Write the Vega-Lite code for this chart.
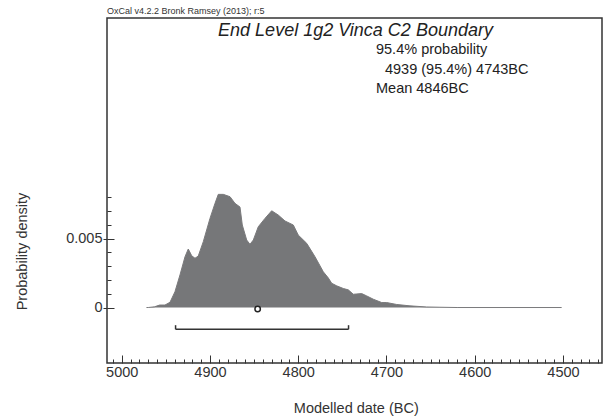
{
  "$schema": "https://vega.github.io/schema/vega-lite/v6.json",
  "width": 495,
  "height": 345,
  "autosize": {"type": "none"},
  "padding": {"left": 107, "top": 18, "right": 1, "bottom": 53},
  "background": "white",
  "title": {"text": "OxCal v4.2.2 Bronk Ramsey (2013); r:5", "anchor": "start", "fontSize": 9, "font": "Liberation Sans", "fontWeight": "normal", "color": "#333", "offset": 2, "frame": "group"},
  "config": {
    "view": {"stroke": "#333", "strokeWidth": 1.5},
    "font": "Liberation Sans",
    "axis": {"domain": false, "grid": false, "tickColor": "#333", "labelColor": "#333", "titleColor": "#333", "labelFont": "Liberation Sans", "titleFont": "Liberation Sans", "labelFontSize": 14.5, "titleFontSize": 14.5, "titleFontWeight": "normal", "tickWidth": 1}
  },
  "datasets": {
    "density": [
      {"year": 4972, "density": 0},
      {"year": 4970, "density": 0},
      {"year": 4963, "density": 0.00005},
      {"year": 4957, "density": 0.00018},
      {"year": 4951, "density": 0.00018},
      {"year": 4945.3, "density": 0.00038},
      {"year": 4939.7, "density": 0.00114},
      {"year": 4934, "density": 0.00236},
      {"year": 4928.3, "density": 0.00368},
      {"year": 4924.6, "density": 0.00424},
      {"year": 4920.7, "density": 0.00375},
      {"year": 4917, "density": 0.00357},
      {"year": 4913.3, "density": 0.00373},
      {"year": 4907.6, "density": 0.00477},
      {"year": 4900, "density": 0.00646},
      {"year": 4894.3, "density": 0.00755},
      {"year": 4890.6, "density": 0.0082},
      {"year": 4884.9, "density": 0.0082},
      {"year": 4877.3, "density": 0.00803},
      {"year": 4871.7, "density": 0.00755},
      {"year": 4866, "density": 0.00728},
      {"year": 4863.4, "density": 0.00598},
      {"year": 4858.4, "density": 0.00489},
      {"year": 4854.7, "density": 0.00458},
      {"year": 4850.9, "density": 0.00489},
      {"year": 4845.3, "density": 0.00585},
      {"year": 4837.7, "density": 0.00646},
      {"year": 4830.1, "density": 0.00701},
      {"year": 4822.6, "density": 0.0067},
      {"year": 4815, "density": 0.00627},
      {"year": 4805.6, "density": 0.00598},
      {"year": 4800, "density": 0.00525},
      {"year": 4790.4, "density": 0.00465},
      {"year": 4781, "density": 0.00368},
      {"year": 4771.6, "density": 0.00259},
      {"year": 4766, "density": 0.00215},
      {"year": 4762.1, "density": 0.00176},
      {"year": 4756.4, "density": 0.00157},
      {"year": 4749, "density": 0.00138},
      {"year": 4743.3, "density": 0.00128},
      {"year": 4737.6, "density": 0.00096},
      {"year": 4728.1, "density": 0.00101},
      {"year": 4722.4, "density": 0.00084},
      {"year": 4714.9, "density": 0.0006},
      {"year": 4705.4, "density": 0.00036},
      {"year": 4699.8, "density": 0.00036},
      {"year": 4688.4, "density": 0.00022},
      {"year": 4673.4, "density": 0.00012},
      {"year": 4654.4, "density": 0.00004},
      {"year": 4639.4, "density": 0.00002},
      {"year": 4620, "density": 0},
      {"year": 4501.5, "density": 0}
    ],
    "range": [{"from": 4939, "to": 4743}],
    "ends": [{"year": 4939}, {"year": 4743}],
    "mean": [{"year": 4846}]
  },
  "layer": [
    {
      "data": {"name": "density"},
      "mark": {"type": "area", "color": "#767779", "opacity": 1, "line": {"color": "#7a7a7c", "strokeWidth": 1}},
      "encoding": {
        "x": {"field": "year", "type": "quantitative",
          "scale": {"domain": [4455.8, 5016.7], "reverse": true, "nice": false, "zero": false},
          "axis": {"orient": "bottom", "values": [5000, 4900, 4800, 4700, 4600, 4500], "tickSize": -8, "labelPadding": 10, "format": "d", "labelFlush": false, "labelOverlap": false, "title": "Modelled date (BC)", "titleX": 248.8, "titleY": 49, "titleBaseline": "alphabetic", "titleAlign": "center"}},
        "y": {"field": "density", "type": "quantitative",
          "scale": {"domain": [-0.00402, 0.02098], "nice": false, "zero": false},
          "axis": {"orient": "left", "values": [0, 0.005], "tickSize": 4, "labelPadding": 1, "format": "~g", "labelFlush": false, "labelOverlap": false, "title": "Probability density", "titleAngle": -90, "titleX": -84.5, "titleY": 233, "titleAlign": "center", "titleBaseline": "middle"}}
      }
    },
    {
      "data": {"name": "range"},
      "mark": {"type": "rule", "color": "#333", "strokeWidth": 1.5},
      "encoding": {
        "x": {"field": "from", "type": "quantitative",
          "scale": {"domain": [4455.8, 5016.7], "reverse": true, "nice": false, "zero": false},
          "axis": {"orient": "bottom", "values": [5010, 4990, 4980, 4970, 4960, 4950, 4940, 4930, 4920, 4910, 4890, 4880, 4870, 4860, 4850, 4840, 4830, 4820, 4810, 4790, 4780, 4770, 4760, 4750, 4740, 4730, 4720, 4710, 4690, 4680, 4670, 4660, 4650, 4640, 4630, 4620, 4610, 4590, 4580, 4570, 4560, 4550, 4540, 4530, 4520, 4510, 4490, 4480, 4470, 4460], "tickSize": -4, "labels": false, "title": null}},
        "x2": {"field": "to"},
        "y": {"datum": -0.00158, "type": "quantitative",
          "scale": {"domain": [-0.00402, 0.02098], "nice": false, "zero": false},
          "axis": {"orient": "left", "values": [0, 0.005], "tickSize": -7, "labels": false, "title": null}}
      }
    },
    {
      "data": {"name": "ends"},
      "mark": {"type": "rule", "color": "#333", "strokeWidth": 1.5},
      "encoding": {
        "x": {"field": "year", "type": "quantitative",
          "scale": {"domain": [4455.8, 5016.7], "reverse": true, "nice": false, "zero": false}, "axis": null},
        "y": {"datum": -0.00158, "type": "quantitative",
          "scale": {"domain": [-0.00402, 0.02098], "nice": false, "zero": false}, "axis": null},
        "y2": {"datum": -0.00128}
      }
    },
    {
      "data": {"name": "mean"},
      "mark": {"type": "point", "filled": false, "fill": "white", "stroke": "#222", "strokeWidth": 1.5, "size": 30, "opacity": 1},
      "encoding": {
        "x": {"field": "year", "type": "quantitative",
          "scale": {"domain": [4455.8, 5016.7], "reverse": true, "nice": false, "zero": false}, "axis": null},
        "y": {"datum": -0.0001, "type": "quantitative",
          "scale": {"domain": [-0.00402, 0.02098], "nice": false, "zero": false},
          "axis": {"orient": "left", "values": [0.001, 0.002, 0.003, 0.004, 0.006, 0.007, 0.008], "tickSize": -4, "labels": false, "title": null}}
      }
    },
    {
      "data": {"values": [{"label": "End Level 1g2 Vinca C2 Boundary"}]},
      "mark": {"type": "text", "align": "center", "baseline": "alphabetic", "fontSize": 18, "fontStyle": "italic", "font": "Liberation Sans", "color": "#222"},
      "encoding": {
        "text": {"field": "label"},
        "x": {"datum": 4735.1, "type": "quantitative", "scale": {"domain": [4455.8, 5016.7], "reverse": true, "nice": false, "zero": false}, "axis": null},
        "y": {"datum": 0.01967, "type": "quantitative", "scale": {"domain": [-0.00402, 0.02098], "nice": false, "zero": false}, "axis": null}
      }
    },
    {
      "data": {"values": [{"label": "95.4% probability"}]},
      "mark": {"type": "text", "align": "left", "baseline": "alphabetic", "fontSize": 14.5, "font": "Liberation Sans", "color": "#222"},
      "encoding": {
        "text": {"field": "label"},
        "x": {"datum": 4711.9, "type": "quantitative", "scale": {"domain": [4455.8, 5016.7], "reverse": true, "nice": false, "zero": false}, "axis": null},
        "y": {"datum": 0.018347, "type": "quantitative", "scale": {"domain": [-0.00402, 0.02098], "nice": false, "zero": false}, "axis": null}
      }
    },
    {
      "data": {"values": [{"label": "4939 (95.4%) 4743BC"}]},
      "mark": {"type": "text", "align": "left", "baseline": "alphabetic", "fontSize": 14.5, "font": "Liberation Sans", "color": "#222"},
      "encoding": {
        "text": {"field": "label"},
        "x": {"datum": 4701.7, "type": "quantitative", "scale": {"domain": [4455.8, 5016.7], "reverse": true, "nice": false, "zero": false}, "axis": null},
        "y": {"datum": 0.01692, "type": "quantitative", "scale": {"domain": [-0.00402, 0.02098], "nice": false, "zero": false}, "axis": null}
      }
    },
    {
      "data": {"values": [{"label": "Mean 4846BC"}]},
      "mark": {"type": "text", "align": "left", "baseline": "alphabetic", "fontSize": 14.5, "font": "Liberation Sans", "color": "#222"},
      "encoding": {
        "text": {"field": "label"},
        "x": {"datum": 4711.9, "type": "quantitative", "scale": {"domain": [4455.8, 5016.7], "reverse": true, "nice": false, "zero": false}, "axis": null},
        "y": {"datum": 0.015565, "type": "quantitative", "scale": {"domain": [-0.00402, 0.02098], "nice": false, "zero": false}, "axis": null}
      }
    }
  ],
  "resolve": {"axis": {"x": "independent", "y": "independent"}}
}
